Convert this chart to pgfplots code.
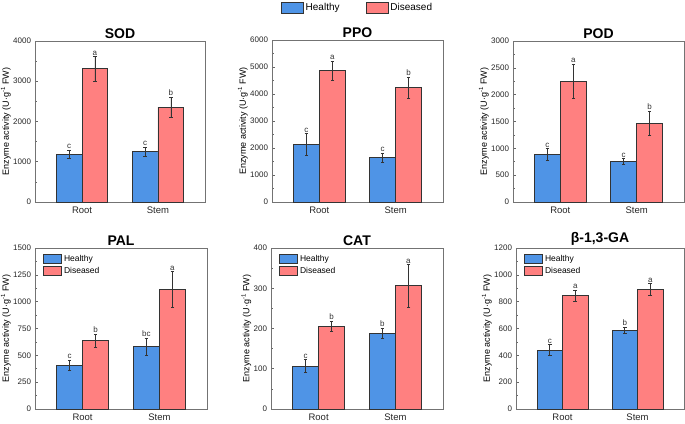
\documentclass[border=0pt]{standalone}
\usepackage{pgfplots}
\pgfplotsset{compat=1.18}
\usepackage{fontspec}
\setmainfont{Liberation Sans}
\definecolor{hblue}{RGB}{79,148,230}
\definecolor{dred}{RGB}{255,128,128}
\pgfplotsset{
 panel/.style={scale only axis, anchor=south west,
   xmin=-0.62, xmax=1.62, xtick={0,1}, xticklabels={Root,Stem},
   ymin=0, axis line style={black!55, line width=0.8pt},
   tick align=inside, ytick pos=left, xtick pos=bottom,
   x tick style={draw=none}, y tick style={black!60, line width=0.6pt},
   minor y tick num=1, major tick length=3pt, minor tick length=1.8pt,
   tick label style={font=\fontsize{8}{9}\selectfont, text=black!85},
   yticklabel style={xshift=-0.5pt},
   x tick label style={font=\fontsize{9.5}{11}\selectfont, yshift=-1pt},
   /pgf/number format/assume math mode=true,
   /pgf/number format/1000 sep={},
   ylabel={Enzyme activity (U·g\textsuperscript{-1} FW)},
   ylabel style={font=\fontsize{9}{10}\selectfont, yshift=-4.5pt},
   title style={font=\bfseries\fontsize{14}{16}\selectfont, yshift=-7pt},
   legend cell align=left,
   clip=false,
 },
 hbar/.style={ybar, bar width=0.34, bar shift=0pt, fill=hblue, draw=black!80, line width=0.8pt,
   error bars/y dir=both, error bars/y explicit,
   error bars/error bar style={black!80, line width=0.6pt},
   error bars/error mark options={rotate=90, black!80, mark size=1.8pt, line width=0.6pt}},
 dbar/.style={hbar, fill=dred},
 bigleg/.style={legend image code/.code={\draw[##1] (0pt,-5.5pt) rectangle (22pt,5.5pt);}},
 smallleg/.style={legend image code/.code={\draw[##1] (0pt,-4.5pt) rectangle (18pt,4.5pt);}},
 letters/.style={draw=none, mark=none, forget plot, nodes near coords, point meta=explicit symbolic,
   nodes near coords style={font=\fontsize{8}{9}\selectfont, text=black!80, anchor=south, inner sep=1pt}},
 inleg/.style={legend style={at={(0,1)}, anchor=north west, xshift=7pt, yshift=-4pt, draw=none, fill=none,
   font=\fontsize{8.5}{9}\selectfont, row sep=0pt, inner sep=1pt}},
}
\begin{document}
\begin{tikzpicture}
\useasboundingbox (0,0) rectangle (685pt,423pt);
% SOD
\begin{axis}[panel, at={(35pt,221pt)}, width=170pt, height=161pt, ymax=4000, ytick={0,1000,2000,3000,4000}, title={SOD}]
\addplot[hbar] coordinates {(-0.17,1185) +- (0,100) (0.83,1250) +- (0,120)};
\addplot[dbar] coordinates {(0.17,3310) +- (0,300) (1.17,2355) +- (0,250)};
\addplot[letters] coordinates {(-0.17,1285) [c] (0.83,1370) [c] (0.17,3610) [a] (1.17,2605) [b]};
\end{axis}
% PPO
\begin{axis}[panel, at={(272pt,221pt)}, width=171pt, height=162pt, ymax=6000, ytick={0,1000,2000,3000,4000,5000,6000}, title={PPO},
  legend columns=2, legend style={at={(0.5,1)}, anchor=north, yshift=41pt, draw=none, fill=none,
  font=\fontsize{10}{12}\selectfont, /tikz/every even column/.append style={column sep=24pt}}]
\addplot[hbar, bigleg] coordinates {(-0.17,2130) +- (0,400) (0.83,1645) +- (0,165)};
\addlegendentry{Healthy}
\addplot[dbar, bigleg] coordinates {(0.17,4870) +- (0,345) (1.17,4230) +- (0,390)};
\addlegendentry{Diseased}
\addplot[letters] coordinates {(-0.17,2530) [c] (0.83,1810) [c] (0.17,5215) [a] (1.17,4620) [b]};
\end{axis}
% POD
\begin{axis}[panel, at={(513pt,221pt)}, width=171pt, height=161pt, ymax=3000, ytick={0,500,1000,1500,2000,2500,3000}, title={POD}]
\addplot[hbar] coordinates {(-0.17,888) +- (0,110) (0.83,758) +- (0,55)};
\addplot[dbar] coordinates {(0.17,2253) +- (0,320) (1.17,1466) +- (0,230)};
\addplot[letters] coordinates {(-0.17,998) [c] (0.83,813) [c] (0.17,2573) [a] (1.17,1696) [b]};
\end{axis}
% PAL
\begin{axis}[panel, at={(35pt,14pt)}, width=172pt, height=161pt, ymax=1500, ytick={0,250,500,750,1000,1250,1500}, title={PAL}, inleg]
\addplot[hbar, smallleg] coordinates {(-0.17,407) +- (0,48) (0.83,579) +- (0,80)};
\addlegendentry{Healthy}
\addplot[dbar, smallleg] coordinates {(0.17,635) +- (0,62) (1.17,1115) +- (0,165)};
\addlegendentry{Diseased}
\addplot[letters] coordinates {(-0.17,455) [c] (0.83,659) [bc] (0.17,697) [b] (1.17,1280) [a]};
\end{axis}
% CAT
\begin{axis}[panel, at={(271pt,14pt)}, width=172pt, height=161pt, ymax=400, ytick={0,100,200,300,400}, title={CAT}, inleg]
\addplot[hbar, smallleg] coordinates {(-0.17,106.5) +- (0,16) (0.83,188.5) +- (0,13)};
\addlegendentry{Healthy}
\addplot[dbar, smallleg] coordinates {(0.17,206) +- (0,12) (1.17,306) +- (0,53)};
\addlegendentry{Diseased}
\addplot[letters] coordinates {(-0.17,122.5) [c] (0.83,201.5) [b] (0.17,218) [b] (1.17,359) [a]};
\end{axis}
% beta-1,3-GA
\begin{axis}[panel, at={(516pt,14pt)}, width=168pt, height=161pt, ymax=1200, ytick={0,200,400,600,800,1000,1200}, title={β-1,3-GA}, inleg]
\addplot[hbar, smallleg] coordinates {(-0.17,439) +- (0,40) (0.83,588) +- (0,24)};
\addlegendentry{Healthy}
\addplot[dbar, smallleg] coordinates {(0.17,845) +- (0,40) (1.17,892) +- (0,45)};
\addlegendentry{Diseased}
\addplot[letters] coordinates {(-0.17,479) [c] (0.83,612) [b] (0.17,885) [a] (1.17,937) [a]};
\end{axis}
\end{tikzpicture}
\end{document}
